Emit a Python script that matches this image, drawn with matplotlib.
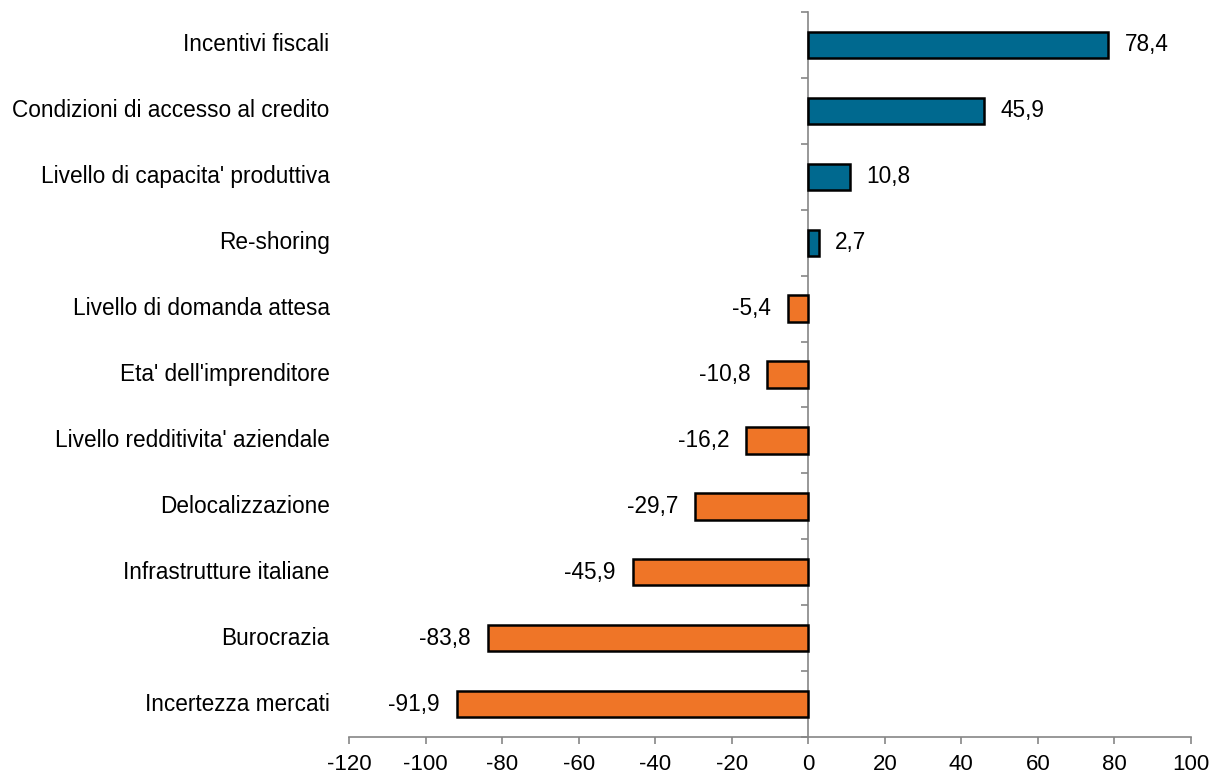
import matplotlib
matplotlib.use("Agg")
import matplotlib.pyplot as plt
from matplotlib.ticker import MultipleLocator
import numpy as np

plt.rcParams['font.family'] = ['Liberation Sans', 'DejaVu Sans']

# categories listed top to bottom
categories = ["Incentivi fiscali", "Condizioni di accesso al credito",
              "Livello di capacita' produttiva", "Re-shoring",
              "Livello di domanda attesa", "Eta' dell'imprenditore",
              "Livello redditivita' aziendale", "Delocalizzazione",
              "Infrastrutture italiane", "Burocrazia", "Incertezza mercati"]
values = [78.4, 45.9, 10.8, 2.7, -5.4, -10.8, -16.2, -29.7, -45.9, -83.8, -91.9]
xticks = [-120, -100, -80, -60, -40, -20, 0, 20, 40, 60, 80, 100]

blue = '#00698F'
orange = '#EF7527'
axis_grey = '#868686'
fs = 16.3

fig = plt.figure(figsize=(12.11, 7.74), dpi=100)
ax = fig.add_axes([349 / 1211, 1 - 737 / 774, (1191 - 349) / 1211, (737 - 12) / 774])

n = len(categories)
ypos = np.arange(n)[::-1]
colors = [blue if v >= 0 else orange for v in values]
ax.barh(ypos, values, height=0.4, color=colors, edgecolor='black', linewidth=1.8, zorder=3)

for y, v, lab in zip(ypos, values, categories):
    txt = ("%.1f" % v).replace('.', ',')
    if v >= 0:
        ax.annotate(txt, (v, y), xytext=(12, 0), textcoords='offset points',
                    ha='left', va='center', fontsize=fs)
    else:
        ax.annotate(txt, (v, y), xytext=(-12, 0), textcoords='offset points',
                    ha='right', va='center', fontsize=fs)
    # category labels sit at the far left of the figure
    ax.annotate(lab, (0, y), xycoords=('axes fraction', 'data'), xytext=(-14, 0),
                textcoords='offset points', ha='right', va='center', fontsize=fs)

ax.set_xlim(-120, 100)
ax.set_ylim(-0.5, n - 0.5)
ax.set_xticks(xticks)
ax.set_xticklabels([str(t) for t in xticks], fontsize=16)
ax.yaxis.set_major_locator(MultipleLocator(1.0, offset=0.5))
ax.set_yticklabels([])

ax.spines['top'].set_visible(False)
ax.spines['right'].set_visible(False)
ax.spines['left'].set_position(('data', 0))
for s in ('left', 'bottom'):
    ax.spines[s].set_color(axis_grey)
    ax.spines[s].set_linewidth(1.2)
ax.tick_params(axis='x', direction='out', length=5, width=1.2, color=axis_grey, pad=7)
ax.tick_params(axis='y', direction='out', length=5, width=1.2, color=axis_grey)

fig.savefig('out.png', dpi=100)
